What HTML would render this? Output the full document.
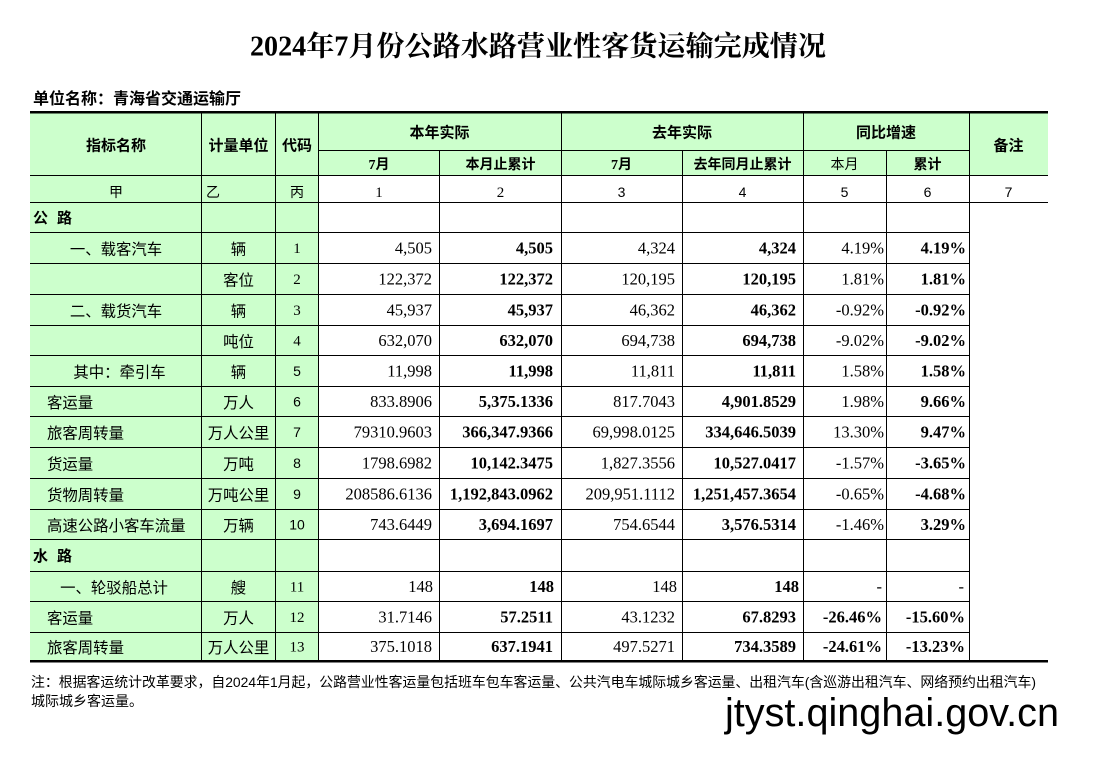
<!DOCTYPE html>
<html>
<head>
<meta charset="utf-8">
<style>
html,body{margin:0;padding:0;background:#fff;}
svg{display:block;}
.t{font-family:"Liberation Serif","Noto Serif CJK SC",serif;font-size:28px;font-weight:bold;}
.u{font-family:"Liberation Sans","Noto Sans CJK SC",sans-serif;font-size:16px;font-weight:bold;}
.hb{font-family:"Liberation Sans","Noto Sans CJK SC",sans-serif;font-size:15px;font-weight:bold;}
.hs{font-family:"Liberation Serif","Noto Sans CJK SC",sans-serif;font-size:14px;font-weight:bold;}
.hr{font-family:"Liberation Sans","Noto Sans CJK SC",sans-serif;font-size:14px;}
.cj{font-family:"Liberation Sans","Noto Sans CJK SC",sans-serif;font-size:15.4px;}
.cjb{font-family:"Liberation Sans","Noto Sans CJK SC",sans-serif;font-size:15px;font-weight:bold;}
.n{font-family:"Liberation Serif",serif;font-size:16.5px;}
.nb{font-family:"Liberation Serif",serif;font-size:16.5px;font-weight:bold;}
.cs{font-family:"Liberation Serif",serif;font-size:15px;}
.ca{font-family:"Liberation Sans",sans-serif;font-size:14px;}
.fn{font-family:"Liberation Sans","Noto Sans CJK SC",sans-serif;font-size:14px;}
.wm{font-family:"Liberation Sans","DejaVu Sans",sans-serif;font-size:39.5px;}
</style>
</head>
<body>
<svg width="1116" height="759" viewBox="0 0 1116 759" xmlns="http://www.w3.org/2000/svg">
<rect x="0" y="0" width="1116" height="759" fill="#fff"/>

<!-- Title -->
<text class="t" x="250" y="55.5" textLength="576" lengthAdjust="spacingAndGlyphs">2024年7月份公路水路营业性客货运输完成情况</text>
<text class="u" x="33" y="104">单位名称：青海省交通运输厅</text>

<!-- Green fills -->
<rect x="30" y="113" width="1018" height="62" fill="#ccffcc"/>
<rect x="30" y="175" width="288" height="486" fill="#ccffcc"/>

<g fill="#000" shape-rendering="crispEdges">
<rect x="30" y="111" width="1018" height="2.5"/>
<rect x="318" y="150" width="651" height="1"/>
<rect x="30" y="175" width="1018" height="1"/>
<rect x="30" y="202" width="1018" height="1"/>
<rect x="30" y="232" width="939" height="1"/>
<rect x="30" y="263" width="939" height="1"/>
<rect x="30" y="294" width="939" height="1"/>
<rect x="30" y="325" width="939" height="1"/>
<rect x="30" y="355" width="939" height="1"/>
<rect x="30" y="386" width="939" height="1"/>
<rect x="30" y="416" width="939" height="1"/>
<rect x="30" y="447" width="939" height="1"/>
<rect x="30" y="478" width="939" height="1"/>
<rect x="30" y="509" width="939" height="1"/>
<rect x="30" y="539" width="939" height="1"/>
<rect x="30" y="571" width="939" height="1"/>
<rect x="30" y="601" width="939" height="1"/>
<rect x="30" y="632" width="939" height="1"/>
<rect x="30" y="660" width="1018" height="2.5"/>
<rect x="201" y="112" width="1" height="549"/>
<rect x="275" y="112" width="1" height="549"/>
<rect x="318" y="112" width="1" height="549"/>
<rect x="439" y="150" width="1" height="511"/>
<rect x="561" y="112" width="1" height="549"/>
<rect x="682" y="150" width="1" height="511"/>
<rect x="803" y="112" width="1" height="549"/>
<rect x="886" y="150" width="1" height="511"/>
<rect x="969" y="112" width="1" height="549"/>
</g>

<!-- Header -->
<g text-anchor="middle" fill="#000">
<text class="hb" x="116" y="150.5">指标名称</text>
<text class="hb" x="238.5" y="150.5">计量单位</text>
<text class="hb" x="297" y="150.5">代码</text>
<text class="hb" x="439.5" y="137.5">本年实际</text>
<text class="hb" x="682" y="137.5">去年实际</text>
<text class="hb" x="886" y="137.5">同比增速</text>
<text class="hb" x="1008.5" y="150.5">备注</text>
<text class="hs" x="379" y="169">7月</text>
<text class="hs" x="500.5" y="169">本月止累计</text>
<text class="hs" x="621.5" y="169">7月</text>
<text class="hs" x="742.5" y="169">去年同月止累计</text>
<text class="hr" x="844.5" y="169">本月</text>
<text class="hs" x="927.5" y="169">累计</text>

<text class="hr" x="116" y="197">甲</text>
<text class="hr" x="297" y="197">丙</text>
<text class="cs" x="379" y="197">1</text>
<text class="cs" x="500.5" y="197">2</text>
<text class="ca" x="621.5" y="197">3</text>
<text class="ca" x="742.5" y="197">4</text>
<text class="ca" x="844.5" y="197">5</text>
<text class="ca" x="927.5" y="197">6</text>
<text class="ca" x="1008.5" y="197">7</text>
</g>
<text class="hr" x="206" y="197">乙</text>

<!-- Section labels -->
<text class="cjb" x="33" y="223">公</text>
<text class="cjb" x="57" y="223">路</text>
<text class="cjb" x="33" y="561">水</text>
<text class="cjb" x="57" y="561">路</text>

<!-- Row labels -->
<g fill="#000">
<text class="cj" x="116" y="254.5" text-anchor="middle">一、载客汽车</text>
<text class="cj" x="116" y="316.5" text-anchor="middle">二、载货汽车</text>
<text class="cj" x="119.5" y="377.5" text-anchor="middle">其中：牵引车</text>
<text class="cj" x="47" y="408">客运量</text>
<text class="cj" x="47" y="438.5">旅客周转量</text>
<text class="cj" x="47" y="469.5">货运量</text>
<text class="cj" x="47" y="500.5">货物周转量</text>
<text class="cj" x="47" y="531">高速公路小客车流量</text>
<text class="cj" x="114" y="593" text-anchor="middle">一、轮驳船总计</text>
<text class="cj" x="47" y="623.5">客运量</text>
<text class="cj" x="47" y="653">旅客周转量</text>
</g>

<!-- Units -->
<g text-anchor="middle" fill="#000">
<text class="cj" x="238.5" y="254.5">辆</text>
<text class="cj" x="238.5" y="285.5">客位</text>
<text class="cj" x="238.5" y="316.5">辆</text>
<text class="cj" x="238.5" y="347">吨位</text>
<text class="cj" x="238.5" y="377.5">辆</text>
<text class="cj" x="238.5" y="408">万人</text>
<text class="cj" x="238.5" y="438.5">万人公里</text>
<text class="cj" x="238.5" y="469.5">万吨</text>
<text class="cj" x="238.5" y="500.5">万吨公里</text>
<text class="cj" x="238.5" y="531">万辆</text>
<text class="cj" x="238.5" y="593">艘</text>
<text class="cj" x="238.5" y="623.5">万人</text>
<text class="cj" x="238.5" y="653">万人公里</text>
</g>

<!-- Codes -->
<g text-anchor="middle" fill="#000">
<text class="cs" x="297" y="253">1</text>
<text class="cs" x="297" y="284">2</text>
<text class="cs" x="297" y="315">3</text>
<text class="cs" x="297" y="345.5">4</text>
<text class="ca" x="297" y="376">5</text>
<text class="ca" x="297" y="406.5">6</text>
<text class="ca" x="297" y="437">7</text>
<text class="ca" x="297" y="468">8</text>
<text class="ca" x="297" y="499">9</text>
<text class="ca" x="297" y="529.5">10</text>
<text class="cs" x="297" y="591.5">11</text>
<text class="cs" x="297" y="622">12</text>
<text class="cs" x="297" y="651.5">13</text>
</g>

<!-- Data -->
<g text-anchor="end" fill="#000">
<text class="n" x="432" y="253.5">4,505</text>
<text class="nb" x="553" y="253.5">4,505</text>
<text class="n" x="675" y="253.5">4,324</text>
<text class="nb" x="796" y="253.5">4,324</text>
<text class="n" x="884" y="253.5">4.19%</text>
<text class="nb" x="966" y="253.5">4.19%</text>

<text class="n" x="432" y="284.5">122,372</text>
<text class="nb" x="553" y="284.5">122,372</text>
<text class="n" x="675" y="284.5">120,195</text>
<text class="nb" x="796" y="284.5">120,195</text>
<text class="n" x="884" y="284.5">1.81%</text>
<text class="nb" x="966" y="284.5">1.81%</text>

<text class="n" x="432" y="315.5">45,937</text>
<text class="nb" x="553" y="315.5">45,937</text>
<text class="n" x="675" y="315.5">46,362</text>
<text class="nb" x="796" y="315.5">46,362</text>
<text class="n" x="884" y="315.5">-0.92%</text>
<text class="nb" x="966" y="315.5">-0.92%</text>

<text class="n" x="432" y="346">632,070</text>
<text class="nb" x="553" y="346">632,070</text>
<text class="n" x="675" y="346">694,738</text>
<text class="nb" x="796" y="346">694,738</text>
<text class="n" x="884" y="346">-9.02%</text>
<text class="nb" x="966" y="346">-9.02%</text>

<text class="n" x="432" y="376.5">11,998</text>
<text class="nb" x="553" y="376.5">11,998</text>
<text class="n" x="675" y="376.5">11,811</text>
<text class="nb" x="796" y="376.5">11,811</text>
<text class="n" x="884" y="376.5">1.58%</text>
<text class="nb" x="966" y="376.5">1.58%</text>

<text class="n" x="432" y="407">833.8906</text>
<text class="nb" x="553" y="407">5,375.1336</text>
<text class="n" x="675" y="407">817.7043</text>
<text class="nb" x="796" y="407">4,901.8529</text>
<text class="n" x="884" y="407">1.98%</text>
<text class="nb" x="966" y="407">9.66%</text>

<text class="n" x="432" y="437.5">79310.9603</text>
<text class="nb" x="553" y="437.5">366,347.9366</text>
<text class="n" x="675" y="437.5">69,998.0125</text>
<text class="nb" x="796" y="437.5">334,646.5039</text>
<text class="n" x="884" y="437.5">13.30%</text>
<text class="nb" x="966" y="437.5">9.47%</text>

<text class="n" x="432" y="468.5">1798.6982</text>
<text class="nb" x="553" y="468.5">10,142.3475</text>
<text class="n" x="675" y="468.5">1,827.3556</text>
<text class="nb" x="796" y="468.5">10,527.0417</text>
<text class="n" x="884" y="468.5">-1.57%</text>
<text class="nb" x="966" y="468.5">-3.65%</text>

<text class="n" x="432" y="499.5">208586.6136</text>
<text class="nb" x="553" y="499.5">1,192,843.0962</text>
<text class="n" x="675" y="499.5">209,951.1112</text>
<text class="nb" x="796" y="499.5">1,251,457.3654</text>
<text class="n" x="884" y="499.5">-0.65%</text>
<text class="nb" x="966" y="499.5">-4.68%</text>

<text class="n" x="432" y="530">743.6449</text>
<text class="nb" x="553" y="530">3,694.1697</text>
<text class="n" x="675" y="530">754.6544</text>
<text class="nb" x="796" y="530">3,576.5314</text>
<text class="n" x="884" y="530">-1.46%</text>
<text class="nb" x="966" y="530">3.29%</text>

<text class="n" x="433" y="592">148</text>
<text class="nb" x="554" y="592">148</text>
<text class="n" x="677" y="592">148</text>
<text class="nb" x="799" y="592">148</text>
<text class="n" x="882" y="592">-</text>
<text class="n" x="964" y="592">-</text>

<text class="n" x="432" y="622.5">31.7146</text>
<text class="nb" x="553" y="622.5">57.2511</text>
<text class="n" x="675" y="622.5">43.1232</text>
<text class="nb" x="796" y="622.5">67.8293</text>
<text class="nb" x="882" y="622.5">-26.46%</text>
<text class="nb" x="965" y="622.5">-15.60%</text>

<text class="n" x="432" y="652">375.1018</text>
<text class="nb" x="553" y="652">637.1941</text>
<text class="n" x="675" y="652">497.5271</text>
<text class="nb" x="796" y="652">734.3589</text>
<text class="nb" x="882" y="652">-24.61%</text>
<text class="nb" x="965" y="652">-13.23%</text>
</g>

<!-- Footnote -->
<text class="fn" x="31" y="687" textLength="1005" lengthAdjust="spacingAndGlyphs">注：根据客运统计改革要求，自2024年1月起，公路营业性客运量包括班车包车客运量、公共汽电车城际城乡客运量、出租汽车(含巡游出租汽车、网络预约出租汽车)</text>
<text class="fn" x="31" y="706">城际城乡客运量。</text>

<!-- Watermark -->
<text class="wm" x="725" y="726" textLength="334" lengthAdjust="spacingAndGlyphs">jtyst.qinghai.gov.cn</text>
</svg>
</body>
</html>
